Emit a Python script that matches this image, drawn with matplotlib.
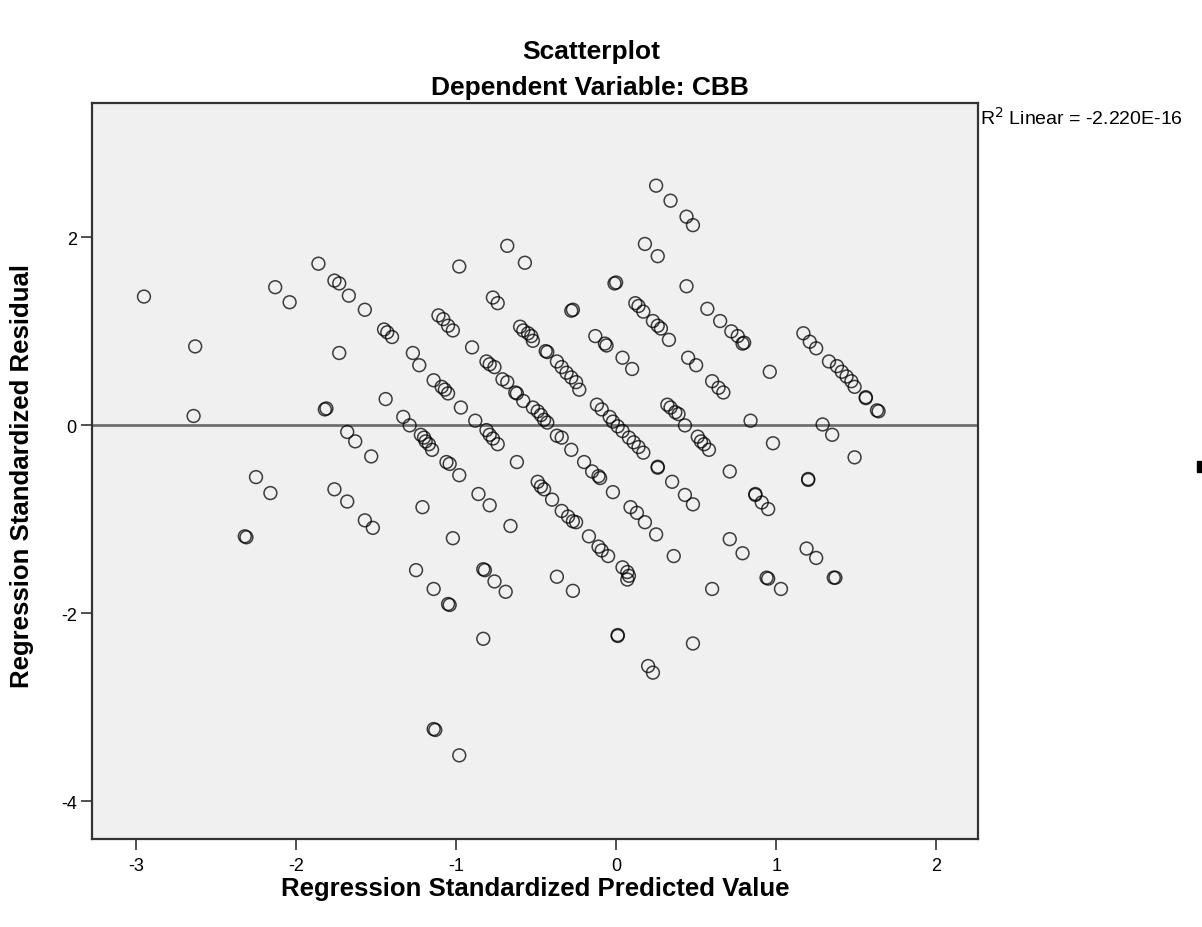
import matplotlib.pyplot as plt
from matplotlib.patches import Rectangle

plt.rcParams['font.family'] = ['Liberation Sans', 'DejaVu Sans']
plt.rcParams['axes.unicode_minus'] = False

# standardized predicted value (x) and standardized residual (y)
pred = [-2.95, -2.63, -2.64, -2.25, -2.16, -2.32, -2.31, -2.13, -2.04, -1.86,
        -1.76, -1.73, -1.67, -1.57, -1.73, -1.82, -1.81, -1.68, -1.63, -1.53,
        -1.76, -1.68, -1.57, -1.52, -1.44, -1.45, -1.43, -1.40, -1.27, -1.23,
        -1.14, -1.09, -1.07, -1.05, -0.97, -1.33, -1.29, -1.22, -1.20, -1.19,
        -1.17, -1.15, -1.06, -1.04, -0.98, -1.21, -1.02, -1.25, -1.14, -1.05,
        -1.04, -1.14, -1.13, -0.98, -1.11, -1.08, -1.05, -1.02, -0.98, -0.90,
        -0.81, -0.79, -0.76, -0.71, -0.68, -0.63, -0.62, -0.58, -0.88, -0.81,
        -0.79, -0.77, -0.74, -0.62, -0.86, -0.79, -0.66, -0.83, -0.82, -0.76,
        -0.69, -0.83, -0.77, -0.74, -0.68, -0.57, -0.60, -0.58, -0.55, -0.53,
        -0.52, -0.44, -0.43, -0.37, -0.34, -0.31, -0.28, -0.25, -0.23, -0.52,
        -0.49, -0.47, -0.45, -0.43, -0.37, -0.34, -0.28, -0.20, -0.15, -0.11,
        -0.10, -0.49, -0.47, -0.45, -0.40, -0.34, -0.30, -0.27, -0.25, -0.17,
        -0.11, -0.09, -0.05, 0.04, 0.07, 0.08, -0.37, -0.27, 0.07, 0.01,
        0.01, 0.20, 0.23, -0.28, -0.27, -0.01, 0.00, -0.13, -0.07, -0.06,
        0.04, 0.10, -0.12, -0.09, -0.04, -0.02, 0.01, 0.04, 0.08, 0.11,
        0.14, 0.17, 0.26, 0.26, 0.32, 0.34, 0.37, 0.35, -0.02, 0.09,
        0.13, 0.18, 0.25, 0.36, 0.12, 0.14, 0.17, 0.23, 0.26, 0.28,
        0.33, 0.18, 0.26, 0.25, 0.34, 0.44, 0.48, 0.44, 0.57, 0.65,
        0.72, 0.76, 0.79, 0.80, 1.17, 1.21, 1.25, 1.33, 1.38, 1.41,
        1.44, 1.47, 1.49, 1.56, 1.56, 1.64, 1.63, 0.84, 0.45, 0.50,
        0.96, 0.60, 0.64, 0.67, 0.39, 0.43, 0.51, 0.53, 0.55, 0.58,
        0.98, 1.29, 1.35, 1.49, 0.71, 1.20, 1.20, 0.43, 0.48, 0.87,
        0.87, 0.91, 0.95, 0.71, 0.79, 1.19, 1.25, 1.37, 1.36, 0.95,
        0.94, 0.60, 1.03, 0.48]
resid = [1.37, 0.84, 0.10, -0.55, -0.72, -1.18, -1.19, 1.47, 1.31, 1.72,
         1.54, 1.51, 1.38, 1.23, 0.77, 0.17, 0.18, -0.07, -0.17, -0.33,
         -0.68, -0.81, -1.01, -1.09, 0.28, 1.02, 0.99, 0.94, 0.77, 0.64,
         0.48, 0.41, 0.38, 0.34, 0.19, 0.09, 0.00, -0.10, -0.13, -0.17,
         -0.20, -0.26, -0.39, -0.41, -0.53, -0.87, -1.20, -1.54, -1.74, -1.90,
         -1.91, -3.23, -3.24, -3.51, 1.17, 1.13, 1.06, 1.01, 1.69, 0.83,
         0.68, 0.65, 0.62, 0.49, 0.46, 0.35, 0.34, 0.26, 0.05, -0.05,
         -0.10, -0.14, -0.20, -0.39, -0.73, -0.85, -1.07, -1.53, -1.54, -1.66,
         -1.77, -2.27, 1.36, 1.30, 1.91, 1.73, 1.05, 1.01, 0.98, 0.95,
         0.90, 0.79, 0.78, 0.68, 0.62, 0.56, 0.51, 0.46, 0.38, 0.19,
         0.15, 0.11, 0.06, 0.03, -0.11, -0.13, -0.26, -0.39, -0.49, -0.54,
         -0.56, -0.60, -0.65, -0.68, -0.79, -0.91, -0.97, -1.02, -1.03, -1.18,
         -1.29, -1.33, -1.39, -1.51, -1.56, -1.60, -1.61, -1.76, -1.64, -2.23,
         -2.24, -2.56, -2.63, 1.22, 1.23, 1.51, 1.52, 0.95, 0.87, 0.85,
         0.72, 0.60, 0.22, 0.17, 0.09, 0.04, -0.01, -0.06, -0.13, -0.18,
         -0.23, -0.29, -0.44, -0.45, 0.22, 0.19, 0.14, -0.60, -0.71, -0.87,
         -0.93, -1.03, -1.16, -1.39, 1.30, 1.27, 1.21, 1.11, 1.06, 1.03,
         0.91, 1.93, 1.80, 2.55, 2.39, 2.22, 2.13, 1.48, 1.24, 1.11,
         1.00, 0.95, 0.87, 0.88, 0.98, 0.89, 0.82, 0.68, 0.63, 0.57,
         0.52, 0.47, 0.41, 0.29, 0.30, 0.15, 0.16, 0.05, 0.72, 0.64,
         0.57, 0.47, 0.40, 0.35, 0.12, 0.00, -0.12, -0.17, -0.20, -0.26,
         -0.19, 0.01, -0.10, -0.34, -0.49, -0.57, -0.58, -0.74, -0.84, -0.73,
         -0.74, -0.82, -0.89, -1.21, -1.36, -1.31, -1.41, -1.62, -1.62, -1.63,
         -1.62, -1.74, -1.74, -2.32]

fig = plt.figure(figsize=(12.02, 9.28), dpi=100)
ax = fig.add_axes([0.0765, 0.0948, 0.737, 0.7932])
ax.set_facecolor('#f0f0f0')

ax.axhline(0, color='#707070', linewidth=2, zorder=1)
ax.scatter(pred, resid, s=85, facecolors='none', edgecolors='black',
           linewidths=1.1, alpha=0.75, zorder=2)

ax.set_xlim(-3.275, 2.26)
ax.set_ylim(-4.40, 3.43)
ax.set_xticks([-3, -2, -1, 0, 1, 2])
ax.set_yticks([-4, -2, 0, 2])
ax.tick_params(labelsize=13, length=8, width=1.2, color='#333333')
ax.tick_params(axis='x', pad=5)
ax.tick_params(axis='y', pad=3)
for s in ax.spines.values():
    s.set_color('#333333')
    s.set_linewidth(1.6)

ax.set_xlabel('Regression Standardized Predicted Value', fontsize=18.5,
              fontweight='bold', va='center')
ax.xaxis.set_label_coords(0.5, -0.066)
ax.set_ylabel('Regression Standardized Residual', fontsize=18.5,
              fontweight='bold', va='center')
ax.yaxis.set_label_coords(-0.079, 0.495)

fig.text(0.492, 0.944, 'Scatterplot', ha='center', va='center',
         fontsize=19, fontweight='bold')
fig.text(0.491, 0.905, 'Dependent Variable: CBB', ha='center', va='center',
         fontsize=19, fontweight='bold')
fig.text(0.8153, 0.873, 'R$^2$ Linear = -2.220E-16', ha='left', va='center',
         fontsize=14)

fig.patches.append(Rectangle((0.9955, 0.49), 0.004, 0.012,
                             transform=fig.transFigure, color='black'))

fig.savefig('out.png', dpi=100, facecolor='white')
